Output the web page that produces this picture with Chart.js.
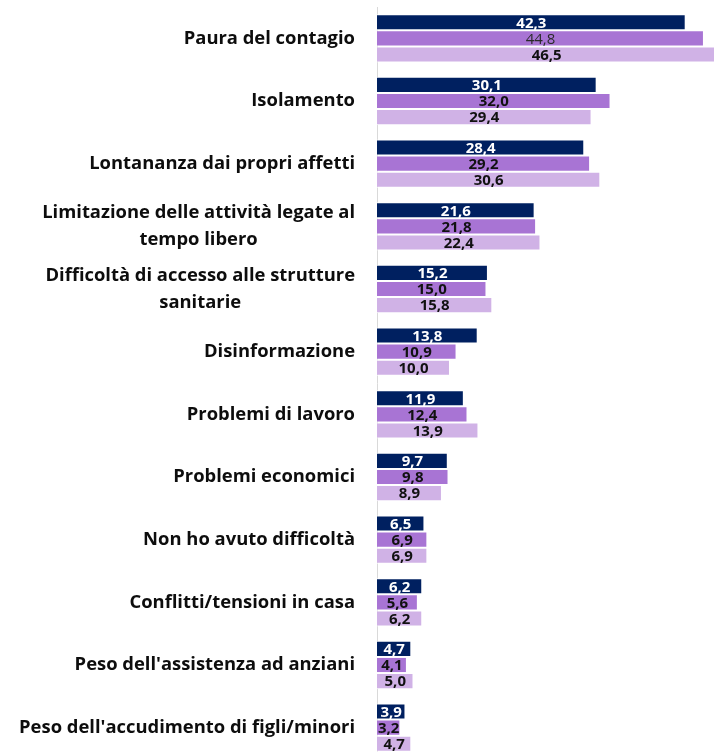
<!DOCTYPE html>
<html>
<head>
<meta charset="utf-8">
<script src="https://cdn.jsdelivr.net/npm/chart.js@4/dist/chart.umd.min.js"></script>
<style>
  html, body { margin: 0; padding: 0; background: #fff; overflow: hidden; }
  #wrap { width: 714px; height: 752px; overflow: hidden; }
</style>
</head>
<body>
<div id="wrap"><canvas id="chart" width="720" height="762"></canvas></div>
<script>
const categories = [
  ["Paura del contagio"],
  ["Isolamento"],
  ["Lontananza dai propri affetti"],
  ["Limitazione delle attività legate al", "tempo libero"],
  ["Difficoltà di accesso alle strutture", "sanitarie"],
  ["Disinformazione"],
  ["Problemi di lavoro"],
  ["Problemi economici"],
  ["Non ho avuto difficoltà"],
  ["Conflitti/tensioni in casa"],
  ["Peso dell'assistenza ad anziani"],
  ["Peso dell'accudimento di figli/minori"]
];

const serie1 = [42.3, 30.1, 28.4, 21.6, 15.2, 13.8, 11.9, 9.7, 6.5, 6.2, 4.7, 3.9];
const serie2 = [44.8, 32.0, 29.2, 21.8, 15.0, 10.9, 12.4, 9.8, 6.9, 5.6, 4.1, 3.2];
const serie3 = [46.5, 29.4, 30.6, 22.4, 15.8, 10.0, 13.9, 8.9, 6.9, 6.2, 5.0, 4.7];

const colors = ["#002060", "#A874D4", "#D0B2E6"];
const labelColors = ["#ffffff", "#111111", "#111111"];

const fmt = v => v.toFixed(1).replace(".", ",");

// category labels: right edge of the widest line at x=355, lines centred on each other
const yLabels = {
  id: "yLabels",
  afterDraw(chart) {
    const ctx = chart.ctx;
    const y = chart.scales.y;
    ctx.save();
    ctx.font = "bold 18.4px 'Open Sans'";
    ctx.fillStyle = "#0d0d0d";
    ctx.textAlign = "center";
    ctx.textBaseline = "middle";
    const lineH = 27;
    categories.forEach((lines, i) => {
      const cy = y.getPixelForValue(i);
      const w = Math.max(...lines.map(l => ctx.measureText(l).width));
      const cx = 355 - w / 2;
      const top = cy - (lines.length - 1) * lineH / 2;
      lines.forEach((l, j) => ctx.fillText(l, cx, top + j * lineH));
    });
    ctx.restore();
  }
};

// value labels centred inside the bars
const barValues = {
  id: "barValues",
  afterDatasetsDraw(chart) {
    const ctx = chart.ctx;
    ctx.save();
    ctx.textAlign = "center";
    ctx.textBaseline = "middle";
    chart.data.datasets.forEach((ds, di) => {
      chart.getDatasetMeta(di).data.forEach((bar, i) => {
        const light = di === 1 && i === 0;
        ctx.font = (light ? "" : "bold ") + "15px 'Open Sans'";
        ctx.fillStyle = light ? "#2a2a2a" : labelColors[di];
        ctx.fillText(fmt(ds.data[i]), (bar.x + bar.base) / 2, bar.y + 1);
      });
    });
    ctx.restore();
  }
};

const mk = (label, data, idx) => ({
  label: label,
  data: data,
  backgroundColor: colors[idx],
  borderColor: "#ffffff",
  borderWidth: 1,
  borderSkipped: "start",
  barPercentage: 1,
  categoryPercentage: 0.77
});

new Chart(document.getElementById("chart"), {
  type: "bar",
  data: {
    labels: categories.map(c => c.join(" ")),
    datasets: [
      mk("Serie 1", serie1, 0),
      mk("Serie 2", serie2, 1),
      mk("Serie 3", serie3, 2)
    ]
  },
  options: {
    indexAxis: "y",
    responsive: false,
    animation: false,
    layout: { padding: { left: 377, top: 7, bottom: 3, right: 0 } },
    scales: {
      x: { display: false, min: 0, max: 47 },
      y: {
        ticks: { display: false },
        grid: { display: false, drawTicks: false },
        border: { display: true, color: "#d9d9d9", width: 1 }
      }
    },
    plugins: {
      legend: { display: false },
      tooltip: { enabled: false }
    }
  },
  plugins: [yLabels, barValues]
});
</script>
</body>
</html>
